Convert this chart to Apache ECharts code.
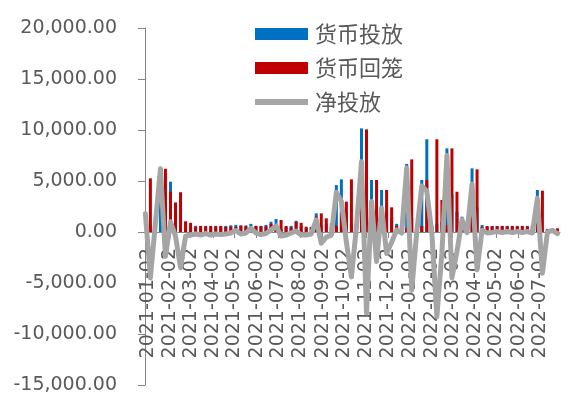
<!DOCTYPE html>
<html>
<head>
<meta charset="utf-8">
<script src="https://cdn.jsdelivr.net/npm/echarts@6/dist/echarts.min.js"></script>
<style>
  html, body { margin: 0; padding: 0; background: #ffffff; }
  #chart { width: 569px; height: 404px; }
</style>
</head>
<body>
<div id="chart"></div>
<script>
// Weekly open-market figures, one entry per Tuesday starting 2020-12-29
const weekStart = '2020-12-29';
const injection = [
  1800, 700, 300, 6200, 3800, 4930, 2480, 400, 300, 500,
  600, 550, 600, 500, 600, 550, 600, 650, 700, 600,
  650, 800, 600, 550, 700, 1000, 1270, 300, 500, 600,
  1100, 600, 400, 500, 1830, 700, 800, 500, 4600, 5160,
  2000, 760, 600, 10160, 2100, 5100, 2200, 4120, 2000, 1400,
  800, 500, 6670, 1400, 500, 5100, 9090, 500, 800, 1000,
  8200, 3700, 2000, 1500, 200, 6240, 2400, 680, 500, 550,
  600, 550, 600, 550, 600, 550, 600, 550, 4120, 0,
  300, 360, 200
];
const withdrawal = [
  0, 5260, 200, 0, 6200, 3950, 2900, 3900, 1050, 900,
  500, 600, 550, 600, 550, 600, 500, 550, 500, 650,
  550, 500, 600, 600, 550, 800, 600, 1180, 590, 450,
  1000, 900, 520, 450, 1500, 1830, 1340, 850, 600, 2000,
  2975, 5160, 500, 3260, 10060, 2100, 5100, 1770, 4120, 2420,
  590, 600, 400, 7120, 500, 590, 5100, 600, 9090, 3140,
  700, 8200, 3950, 300, 260, 1500, 6140, 500, 590, 590,
  550, 600, 550, 600, 550, 600, 550, 650, 800, 4050,
  300, 200, 360
];
const netInjection = [
  1800, -4500, 850, 6200, -2400, 1000, -400, -3500, -400, -300,
  -200, -300, -150, -300, -200, -250, -200, -100, 150, -200,
  -100, 350, -100, -250, -150, 200, 600, -400, -300, -100,
  100, -300, -300, -200, 1200, -1100, -500, -300, 3900, 3000,
  -1000, -4400, 500, 6900, -7950, 3000, -2900, 2350, -2100, -1000,
  200, -100, 6270, -5700, 0, 4500, 3990, -100, -8300, -2100,
  7500, -4500, -1900, 1200, -60, 4700, -3700, 180, -90, -40,
  50, -50, 50, -50, 50, -50, 50, -100, 3300, -4050,
  0, 160, -160
];

// Axis runs day by day; month labels sit on the 2nd of each month
const axisStart = '2020-12-29';
const axisEnd = '2022-07-29';
const monthLabels = [
  '2021-01-02', '2021-02-02', '2021-03-02', '2021-04-02', '2021-05-02',
  '2021-06-02', '2021-07-02', '2021-08-02', '2021-09-02', '2021-10-02',
  '2021-11-02', '2021-12-02', '2022-01-02', '2022-02-02', '2022-03-02',
  '2022-04-02', '2022-05-02', '2022-06-02', '2022-07-02'
];
const yTicks = { min: -15000, max: 20000, step: 5000 };
const seriesNames = ['货币投放', '货币回笼', '净投放'];

const DAY = 86400000;
function parseDay(s) { return Date.UTC(+s.slice(0, 4), +s.slice(5, 7) - 1, +s.slice(8, 10)); }
function fmtDay(t) { return new Date(t).toISOString().slice(0, 10); }

const days = [];
for (let t = parseDay(axisStart); t <= parseDay(axisEnd); t += DAY) days.push(fmtDay(t));

const dayIndex = {};
days.forEach((d, i) => { dayIndex[d] = i; });

function spread(values) {
  const out = new Array(days.length).fill(null);
  const t0 = parseDay(weekStart);
  values.forEach((v, k) => {
    const d = fmtDay(t0 + k * 7 * DAY);
    if (d in dayIndex) out[dayIndex[d]] = v;
  });
  return out;
}

const labelSet = new Set(monthLabels);
const textColor = '#595959';
const axisColor = '#868686';
// flat grey stroke for the net line's legend key (outer points keep the 53x12 box)
const lineKey = 'path://M0,0L0.01,0L0,0.01ZM0,3L53,3L53,9L0,9ZM53,12L52.99,12L53,11.99Z';

// plot box and where the zero line falls inside it
const plot = { left: 145, right: 9, top: 28, bottom: 19, height: 357 };
const zeroOffset = -plot.height * (0 - yTicks.min) / (yTicks.max - yTicks.min);

const chart = echarts.init(document.getElementById('chart'), null, { renderer: 'canvas' });
chart.setOption({
  animation: false,
  backgroundColor: '#ffffff',
  grid: { left: plot.left, right: plot.right, top: plot.top, bottom: plot.bottom, containLabel: false },
  legend: {
    orient: 'vertical',
    left: 255,
    top: 22,
    padding: 0,
    itemWidth: 53,
    itemHeight: 12,
    itemGap: 10,
    textStyle: { fontFamily: '"Noto Sans CJK SC", sans-serif', fontSize: 22, color: textColor, lineHeight: 24, padding: [0, 0, 0, 2] },
    data: [
      { name: seriesNames[0], icon: 'rect' },
      { name: seriesNames[1], icon: 'rect' },
      { name: seriesNames[2], icon: lineKey, itemStyle: { color: '#A5A5A5' } }
    ]
  },
  xAxis: {
    type: 'category',
    data: days,
    position: 'bottom',
    offset: zeroOffset,
    z: 0,
    boundaryGap: true,
    axisLine: { onZero: false, lineStyle: { color: axisColor, width: 1 } },
    axisTick: {
      show: true,
      alignWithLabel: true,
      length: 6,
      interval: (i, v) => labelSet.has(v),
      lineStyle: { color: axisColor }
    },
    axisLabel: {
      interval: (i, v) => labelSet.has(v),
      rotate: 90,
      margin: 16,
      fontFamily: '"DejaVu Sans", sans-serif',
      fontSize: 19,
      color: textColor
    },
    splitLine: { show: false }
  },
  yAxis: {
    type: 'value',
    min: yTicks.min,
    max: yTicks.max,
    interval: yTicks.step,
    axisLine: { show: true, lineStyle: { color: axisColor, width: 1 } },
    axisTick: { show: true, length: 7, lineStyle: { color: axisColor } },
    axisLabel: {
      margin: 28,
      fontFamily: '"DejaVu Sans", sans-serif',
      fontSize: 19,
      color: textColor,
      formatter: v => v.toLocaleString('en-US', { minimumFractionDigits: 2, maximumFractionDigits: 2 })
    },
    splitLine: { show: false }
  },
  series: [
    {
      name: seriesNames[0],
      type: 'bar',
      data: spread(injection),
      barWidth: 3,
      barGap: '-100%',
      itemStyle: { color: '#0070C0' },
      z: 2
    },
    {
      name: seriesNames[1],
      type: 'bar',
      data: spread(withdrawal),
      barWidth: 3,
      barGap: '-100%',
      itemStyle: { color: '#C00000' },
      z: 2
    },
    {
      name: seriesNames[2],
      type: 'line',
      data: spread(netInjection),
      connectNulls: true,
      symbol: 'none',
      lineStyle: { color: '#A5A5A5', width: 5, join: 'round', cap: 'round' },
      itemStyle: { color: '#A5A5A5' },
      z: 5
    }
  ]
});
</script>
</body>
</html>
